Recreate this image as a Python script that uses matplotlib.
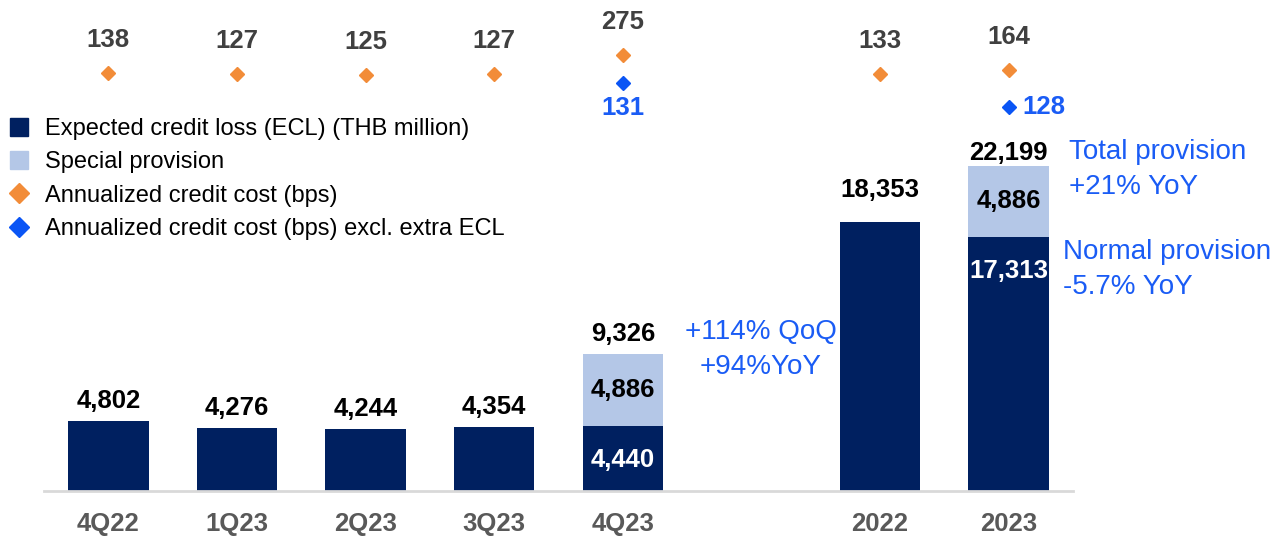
import matplotlib
matplotlib.use('Agg')
import matplotlib.pyplot as plt
from matplotlib.lines import Line2D
import numpy as np

# data
categories = ['4Q22', '1Q23', '2Q23', '3Q23', '4Q23', '2022', '2023']
ecl = [4802, 4276, 4244, 4354, 4440, 18353, 17313]
special = [0, 0, 0, 0, 4886, 0, 4886]
credit_cost = [138, 127, 125, 127, 275, 133, 164]
credit_cost_excl = [None, None, None, None, 131, None, 128]

navy = '#002060'
light = '#B4C7E7'
orange = '#F28C38'
blue = '#0A55F5'
txt_blue = '#1A5CF5'

bold = ['Liberation Sans Narrow', 'Liberation Sans', 'DejaVu Sans']
plt.rcParams['font.family'] = ['Liberation Sans', 'DejaVu Sans']
fs = 18.5

x = np.array([0, 1, 2, 3, 4, 6, 7])  # gap between quarters and years
ecl = np.array(ecl)
special = np.array(special)
totals = ecl + special

fig = plt.figure(figsize=(12.73, 5.37), dpi=100)
ax = fig.add_axes([44 / 1273, 46 / 537, (1073 - 44) / 1273, 491 / 537])

ax.bar(x, ecl, width=0.626, color=navy, zorder=2)
ax.bar(x, special, bottom=ecl, width=0.626, color=light, zorder=2)
ax.set_xlim(-0.5, 7.5)
ax.set_ylim(0, 33500)

for s in ['top', 'right', 'left']:
    ax.spines[s].set_visible(False)
ax.spines['bottom'].set_color('#D9D9D9')
ax.spines['bottom'].set_linewidth(2)
ax.set_yticks([])
ax.set_xticks(x)
ax.set_xticklabels(categories, family=bold, fontweight='bold', fontsize=fs, color='#595959')
ax.tick_params(axis='x', length=0, pad=15)

# labels on top of bars
for xi, t in zip(x, totals):
    off = 20
    if t == 22199:
        off = 13
    if t == 18353:
        off = 32
    ax.annotate(f'{t:,}', (xi, t), xytext=(0, off), textcoords='offset pixels',
                ha='center', va='center', family=bold, fontweight='bold', fontsize=fs, color='black')

# labels inside stacked bars
for xi, e, s in zip(x, ecl, special):
    if s > 0:
        ax.text(xi, e + s / 2, f'{s:,}', ha='center', va='center', family=bold,
                fontweight='bold', fontsize=fs, color='black', zorder=3)
        ax.annotate(f'{e:,}', (xi, e), xytext=(0, -34), textcoords='offset pixels',
                    ha='center', va='center', family=bold, fontweight='bold',
                    fontsize=fs, color='white', zorder=3)

# credit cost on its own scales
ax2 = ax.twinx()
ax2.set_ylim(-3043, 694)
ax2.axis('off')
ax2.plot(x, credit_cost, linestyle='none', marker='D', markersize=7.6, color=orange)
for xi, v in zip(x, credit_cost):
    ax2.annotate(str(v), (xi, v), xytext=(0, 33), textcoords='offset pixels', ha='center',
                 va='center', family=bold, fontweight='bold', fontsize=fs, color='#404040')

ax3 = ax.twinx()
ax3.set_ylim(81.2, 141.1)
ax3.axis('off')
for xi, v in zip(x, credit_cost_excl):
    if v is None:
        continue
    ax3.plot(xi, v, linestyle='none', marker='D', markersize=7.6, color=blue)
    if v == 128:
        ax3.annotate(str(v), (xi, v), xytext=(14, 0), textcoords='offset pixels', ha='left',
                     va='center', family=bold, fontweight='bold', fontsize=fs, color=txt_blue)
    else:
        ax3.annotate(str(v), (xi, v), xytext=(0, -25), textcoords='offset pixels', ha='center',
                     va='center', family=bold, fontweight='bold', fontsize=fs, color=txt_blue)

# growth notes
ax.text(5.07, 9650, '+114% QoQ\n+94%YoY', ha='center', va='center', fontsize=20,
        color=txt_blue, linespacing=1.45)
ax.text(7.47, 21950, 'Total provision\n+21% YoY', ha='left', va='center', fontsize=20,
        color=txt_blue, linespacing=1.45)
ax.text(7.42, 15100, 'Normal provision\n-5.7% YoY', ha='left', va='center', fontsize=20,
        color=txt_blue, linespacing=1.45)

handles = [
    Line2D([], [], linestyle='none', marker='s', markersize=13, color=navy),
    Line2D([], [], linestyle='none', marker='s', markersize=13, color=light),
    Line2D([], [], linestyle='none', marker='D', markersize=9.7, color=orange),
    Line2D([], [], linestyle='none', marker='D', markersize=9.7, color=blue),
]
labels = ['Expected credit loss (ECL) (THB million)', 'Special provision',
          'Annualized credit cost (bps)', 'Annualized credit cost (bps) excl. extra ECL']
leg = ax.legend(handles, labels, loc='upper left', bbox_to_anchor=(0 / 1273, 1 - 111 / 537),
                bbox_transform=fig.transFigure, frameon=False, fontsize=17,
                handlelength=1.0, handletextpad=0.6, labelspacing=0.48, borderaxespad=0,
                borderpad=0.3)

fig.savefig('out.png', dpi=100)
